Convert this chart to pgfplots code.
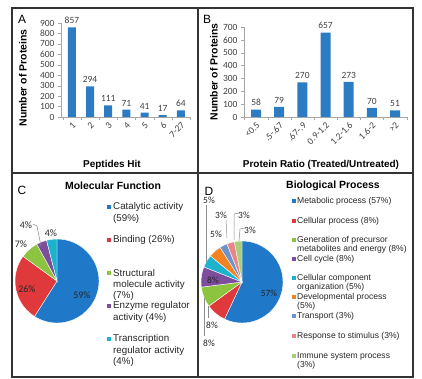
\documentclass[border=0pt]{standalone}
\usepackage{fontspec}
\setmainfont{Liberation Sans}
\newfontfamily\calfont{Carlito}
\usepackage{pgfplots}
\pgfplotsset{compat=1.18}
\definecolor{barblue}{HTML}{2B7CC2}
\definecolor{pblue}{HTML}{1F78C8}
\definecolor{pred}{HTML}{E0393B}
\definecolor{pgreen}{HTML}{8CC43F}
\definecolor{ppurple}{HTML}{7D4E9E}
\definecolor{pcyan}{HTML}{1DB3CF}
\definecolor{porange}{HTML}{F38320}
\definecolor{pslate}{HTML}{6F93C8}
\definecolor{ppink}{HTML}{E8868A}
\definecolor{plgreen}{HTML}{A9CE7A}
\definecolor{framec}{HTML}{333333}
\definecolor{axgray}{HTML}{A6A6A6}
\definecolor{lblc}{HTML}{404040}
\definecolor{txtc}{HTML}{262626}
\definecolor{leadc}{HTML}{8C8C8C}

\pgfplotsset{
  barpanel/.style={
    anchor=south west, scale only axis,
    axis x line*=bottom, axis y line*=left,
    axis line style={draw=axgray, -},
    ybar,
    tick align=outside,
    major tick length=3bp, minor tick length=3bp,
    every major x tick/.append style={draw=none},
    every minor x tick/.append style={draw=axgray},
    ytick style={draw=axgray},
    /pgf/number format/assume math mode=true,
    ticklabel style={font=\calfont\fontsize{9.5}{10}\selectfont, text=lblc},
    xticklabel style={rotate=45, anchor=north east, inner sep=1bp},
    xtick=data,
    nodes near coords,
    nodes near coords style={font=\calfont\fontsize{9.5}{10}\selectfont, text=lblc},
    clip=false,
  }
}

% pie slice: cx, cy, radius, cumulative % before, % of slice, colour
\newcommand{\slice}[6]{%
  \fill[#6, draw=white, line width=0.4bp] (axis cs:#1,#2) -- ([shift={({90-3.6*#4}:#3)}]axis cs:#1,#2)
    arc[start angle={90-3.6*#4}, end angle={90-3.6*(#4+#5)}, radius=#3] -- cycle;}
\newcommand{\lsq}[4]{\fill[#3] (axis cs:#1-#4,#2-#4) rectangle (axis cs:#1+#4,#2+#4);}

\begin{document}
\begin{tikzpicture}
% ---------------- Panel A ----------------
\begin{axis}[barpanel, at={(61bp,262bp)}, width=129bp, height=94bp,
  xmin=-0.6, xmax=6.5, ymin=0, ymax=900, ytick={0,100,...,900},
  xticklabels={1,2,3,4,5,6,7-27}, minor xtick={-0.5,0.5,...,6.5}, bar width=8bp]
\addplot[fill=barblue, draw=none] coordinates {(0,857) (1,294) (2,111) (3,71) (4,41) (5,17) (6,64)};
\end{axis}
% ---------------- Panel B ----------------
\begin{axis}[barpanel, at={(244bp,262bp)}, width=164bp, height=90bp,
  xmin=-0.52, xmax=6.56, ymin=0, ymax=700, ytick={0,100,...,700},
  xticklabels={<0.5,.5-.67,.67-.9,0.9-1.2,1.2-1.6,1.6-2,>2}, minor xtick={-0.5,0.5,...,6.5}, bar width=10bp]
\addplot[fill=barblue, draw=none] coordinates {(0,58) (1,79) (2,270) (3,657) (4,273) (5,70) (6,51)};
\end{axis}
% ---------------- Overlay: frame, pies, texts ----------------
\begin{axis}[at={(0,0)}, anchor=south west, scale only axis, width=422bp, height=379bp,
  xmin=0, xmax=422, ymin=0, ymax=379, y dir=reverse, hide axis, clip=false]
% frame
\draw[framec, line width=1.2bp] (axis cs:12,8) rectangle (axis cs:413,377);
\draw[framec, line width=1.2bp] (axis cs:198,8) -- (axis cs:198,377);
\draw[framec, line width=1.2bp] (axis cs:12,173) -- (axis cs:413,173);
% panel letters
\node[font=\fontsize{12}{14}\selectfont] at (axis cs:22,19) {A};
\node[font=\fontsize{12}{14}\selectfont] at (axis cs:207,19) {B};
\node[font=\fontsize{12}{14}\selectfont] at (axis cs:22,190) {C};
\node[font=\fontsize{12}{14}\selectfont] at (axis cs:209,191) {D};
% axis titles
\node[rotate=90, font=\bfseries\fontsize{10.5}{12}\selectfont] at (axis cs:23,78) {Number of Proteins};
\node[rotate=90, font=\bfseries\fontsize{10.5}{12}\selectfont] at (axis cs:214,72) {Number of Proteins};
\node[font=\bfseries\fontsize{10}{12}\selectfont] at (axis cs:112,165) {Peptides Hit};
\node[font=\bfseries\fontsize{10}{12}\selectfont] at (axis cs:321,165) {Protein Ratio (Treated/Untreated)};
% ---- Pie C: 59, 26, 7, 4, 4
\slice{57}{281}{42bp}{0}{59}{pblue}
\slice{57}{281}{42bp}{59}{26}{pred}
\slice{57}{281}{42bp}{85}{7}{pgreen}
\slice{57}{281}{42bp}{92}{4}{ppurple}
\slice{57}{281}{42bp}{96}{4}{pcyan}
\node[font=\bfseries\fontsize{10.5}{12}\selectfont] at (axis cs:113,186) {Molecular Function};
\begin{scope}[font=\calfont\fontsize{10}{12}\selectfont, text=txtc]
\node at (axis cs:82,295) {59\%};
\node at (axis cs:27,289) {26\%};
\node at (axis cs:21,244) {7\%};
\node at (axis cs:26,225) {4\%};
\node at (axis cs:51,233) {4\%};
\end{scope}
\draw[leadc, line width=0.5bp] (axis cs:33,224) -- (axis cs:37,226) -- (axis cs:41,246);
% legend C
\begin{scope}[font=\fontsize{9.8}{11}\selectfont, text=txtc]
\lsq{109}{207}{pblue}{2.3}
\node[anchor=west, inner sep=0] at (axis cs:113,207) {Catalytic activity};
\node[anchor=west, inner sep=0] at (axis cs:113,218.5) {(59\%)};
\lsq{109}{240}{pred}{2.3}
\node[anchor=west, inner sep=0] at (axis cs:113,240) {Binding (26\%)};
\lsq{109}{273}{pgreen}{2.3}
\node[anchor=west, inner sep=0] at (axis cs:113,273) {Structural};
\node[anchor=west, inner sep=0] at (axis cs:113,284.5) {molecule activity};
\node[anchor=west, inner sep=0] at (axis cs:113,296) {(7\%)};
\lsq{109}{306}{ppurple}{2.3}
\node[anchor=west, inner sep=0] at (axis cs:113,306) {Enzyme regulator};
\node[anchor=west, inner sep=0] at (axis cs:113,317.5) {activity (4\%)};
\lsq{109}{339}{pcyan}{2.3}
\node[anchor=west, inner sep=0] at (axis cs:113,339) {Transcription};
\node[anchor=west, inner sep=0] at (axis cs:113,350.5) {regulator activity};
\node[anchor=west, inner sep=0] at (axis cs:113,362) {(4\%)};
\end{scope}
% ---- Pie D: 57, 8, 8, 8, 5, 5, 3, 3, 3
\slice{242}{282}{41bp}{0}{57}{pblue}
\slice{242}{282}{41bp}{57}{8}{pred}
\slice{242}{282}{41bp}{65}{8}{pgreen}
\slice{242}{282}{41bp}{73}{8}{ppurple}
\slice{242}{282}{41bp}{81}{5}{pcyan}
\slice{242}{282}{41bp}{86}{5}{porange}
\slice{242}{282}{41bp}{91}{3}{pslate}
\slice{242}{282}{41bp}{94}{3}{ppink}
\slice{242}{282}{41bp}{97}{3}{plgreen}
\node[font=\bfseries\fontsize{10.5}{12}\selectfont] at (axis cs:333,186) {Biological Process};
\begin{scope}[font=\calfont\fontsize{9.5}{11}\selectfont, text=txtc]
\node at (axis cs:269,293) {57\%};
\node at (axis cs:213,280) {8\%};
\node at (axis cs:212,325) {8\%};
\node at (axis cs:209,343) {8\%};
\node at (axis cs:209,200) {5\%};
\node at (axis cs:221,215) {3\%};
\node at (axis cs:216,234) {5\%};
\node at (axis cs:244,215) {3\%};
\node at (axis cs:250,230) {3\%};
\end{scope}
\begin{scope}[leadc, line width=0.5bp]
\draw (axis cs:206,205) -- (axis cs:206,262);
\draw (axis cs:226,220) -- (axis cs:227,238);
\draw (axis cs:239,213) -- (axis cs:234,214) -- (axis cs:234,240);
\draw (axis cs:245,228) -- (axis cs:240,229) -- (axis cs:239,241);
\draw (axis cs:204,298) -- (axis cs:204,336);
\draw (axis cs:208,306) -- (axis cs:208,318);
\end{scope}
% legend D
\begin{scope}[font=\fontsize{8.6}{10}\selectfont, text=txtc]
\lsq{294}{201}{pblue}{1.9}
\node[anchor=west, inner sep=0] at (axis cs:297,201) {Metabolic process (57\%)};
\lsq{294}{221}{pred}{1.9}
\node[anchor=west, inner sep=0] at (axis cs:297,221) {Cellular process (8\%)};
\lsq{294}{240}{pgreen}{1.9}
\node[anchor=west, inner sep=0] at (axis cs:297,240) {Generation of precursor};
\node[anchor=west, inner sep=0] at (axis cs:297,249.5) {metabolites and energy (8\%)};
\lsq{294}{259}{ppurple}{1.9}
\node[anchor=west, inner sep=0] at (axis cs:297,259) {Cell cycle (8\%)};
\lsq{294}{278}{pcyan}{1.9}
\node[anchor=west, inner sep=0] at (axis cs:297,278) {Cellular component};
\node[anchor=west, inner sep=0] at (axis cs:297,287.5) {organization (5\%)};
\lsq{294}{297}{porange}{1.9}
\node[anchor=west, inner sep=0] at (axis cs:297,297) {Developmental process};
\node[anchor=west, inner sep=0] at (axis cs:297,306.5) {(5\%)};
\lsq{294}{316}{pslate}{1.9}
\node[anchor=west, inner sep=0] at (axis cs:297,316) {Transport (3\%)};
\lsq{294}{336}{ppink}{1.9}
\node[anchor=west, inner sep=0] at (axis cs:297,336) {Response to stimulus (3\%)};
\lsq{294}{356}{plgreen}{1.9}
\node[anchor=west, inner sep=0] at (axis cs:297,356) {Immune system process};
\node[anchor=west, inner sep=0] at (axis cs:297,365.5) {(3\%)};
\end{scope}
\end{axis}
\pgfresetboundingbox
\path[use as bounding box] (0,0) rectangle (422bp,379bp);
\end{tikzpicture}
\end{document}
